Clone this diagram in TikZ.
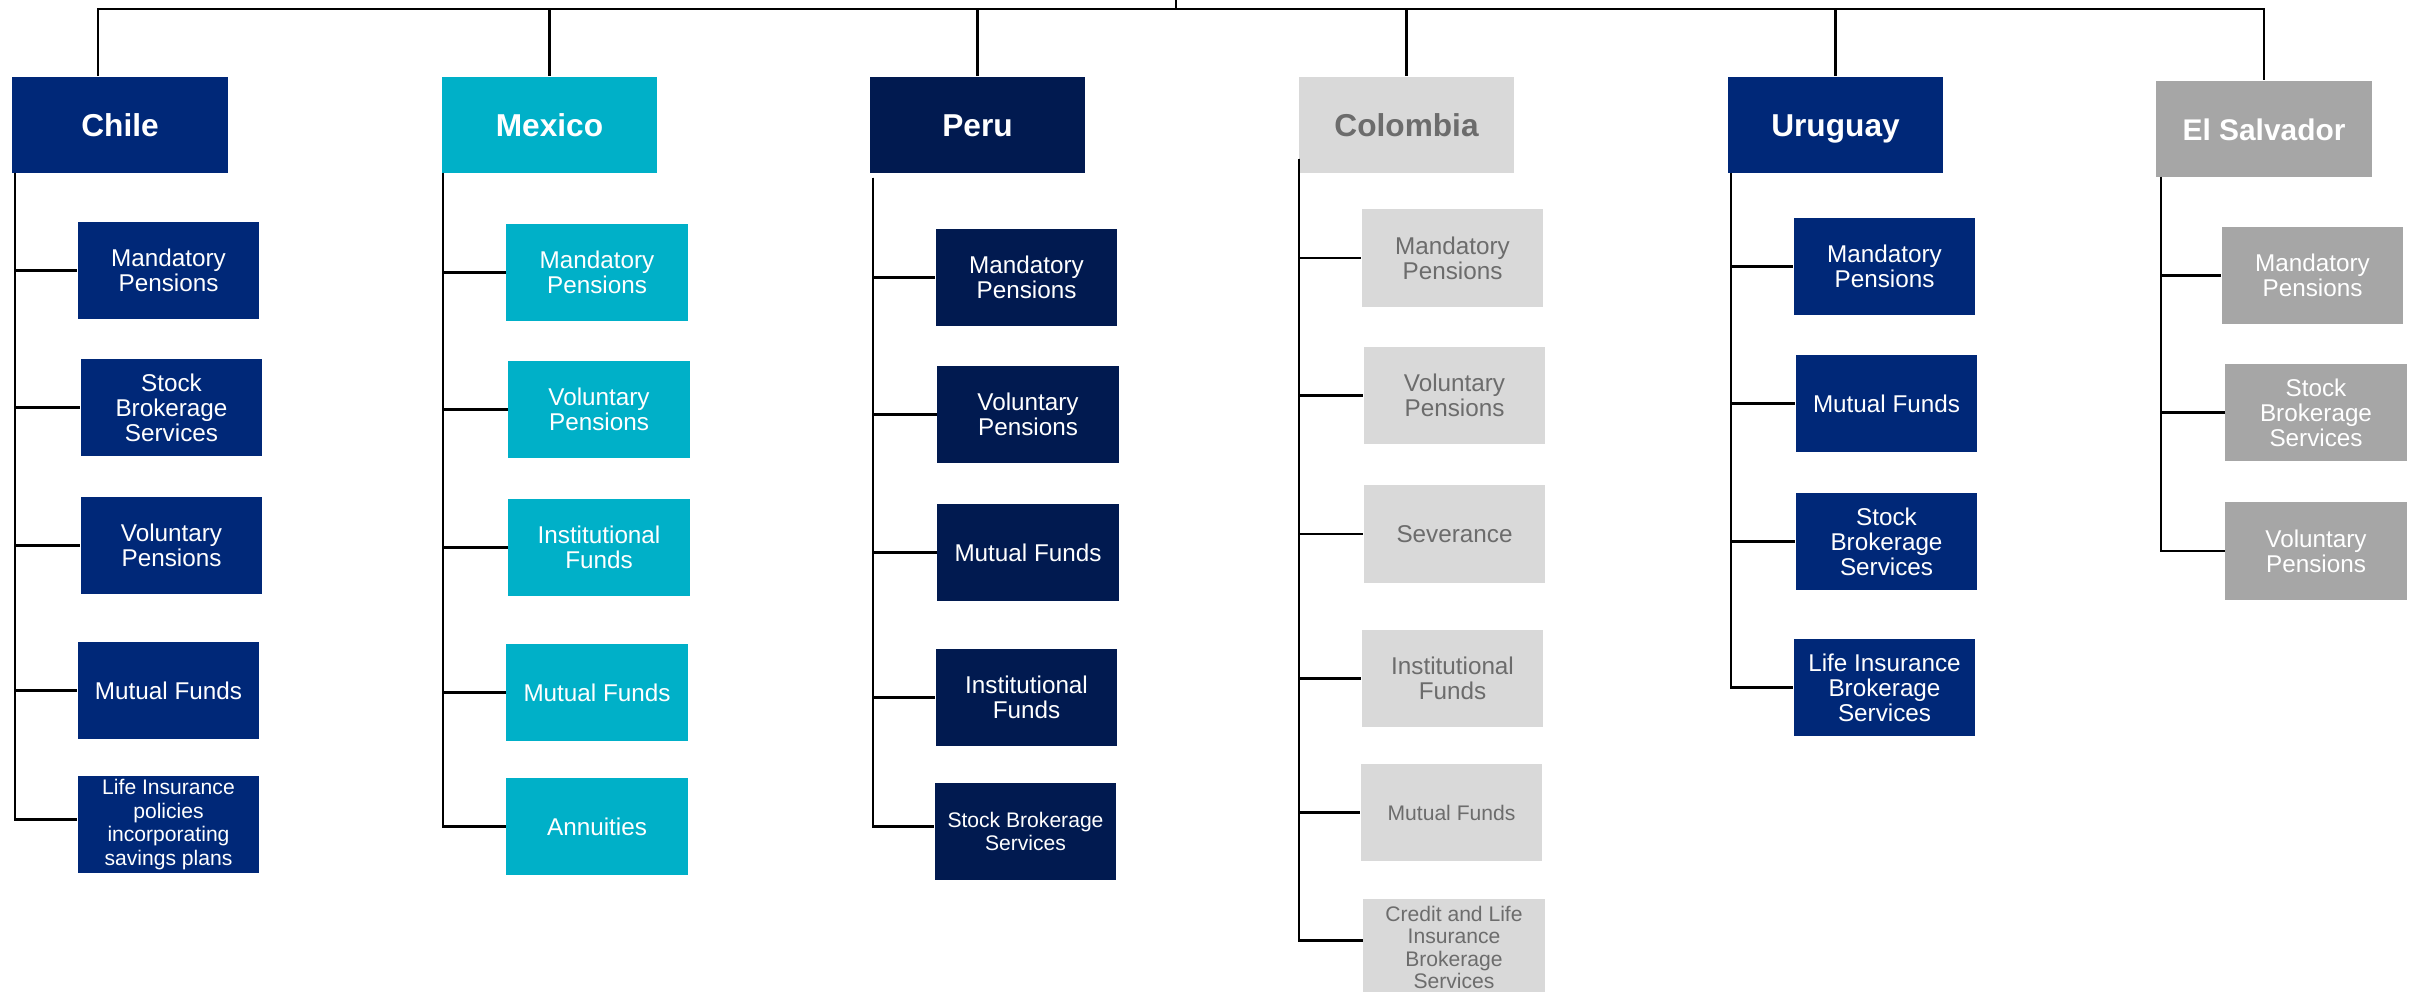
\documentclass[tikz,border=0pt]{standalone}
\usepackage{fontspec}
\setmainfont{Liberation Sans}
\definecolor{chileblue}{RGB}{0,40,120}
\definecolor{mexicocyan}{RGB}{0,176,200}
\definecolor{perunavy}{RGB}{1,26,80}
\definecolor{lightgrey}{RGB}{217,217,217}
\definecolor{textgrey}{RGB}{108,108,108}
\definecolor{midgrey}{RGB}{166,166,166}

\begin{document}
\begin{tikzpicture}[x=0.01cm,y=-0.01cm,
  country/.style={minimum width=2.15cm, minimum height=0.96cm, inner sep=0pt, text height=0.72em, text depth=0.04em, text=white, font=\fontsize{9}{10}\selectfont\bfseries},
  product/.style={minimum width=1.81cm, minimum height=0.97cm, inner sep=0pt, align=center, text=white, font=\fontsize{6.9}{7.1}\selectfont},
  smalltext/.style={font=\fontsize{6}{6.6}\selectfont},
  link/.style={line width=0.6pt},
  mainbar/.style={line width=0.8pt}]
\useasboundingbox (0,0) rectangle (2415,992);
% countries
\node (chile) at (120,125) [country, fill=chileblue] {Chile};
\node (mexico) at (549.5,125) [country, fill=mexicocyan] {Mexico};
\node (peru) at (977.5,125) [country, fill=perunavy] {Peru};
\node (colombia) at (1406.5,125) [country, fill=lightgrey, text=textgrey] {Colombia};
\node (uruguay) at (1835.5,125) [country, fill=chileblue] {Uruguay};
\node (elsalvador) at (2264,129) [country, fill=midgrey, font=\fontsize{8.5}{10}\selectfont\bfseries] {El Salvador};
% chile products
\node (chile1) at (168.5,270.5) [product, fill=chileblue] {Mandatory\\Pensions};
\node (chile2) at (171.5,407.5) [product, fill=chileblue] {Stock\\Brokerage\\Services};
\node (chile3) at (171.5,545.5) [product, fill=chileblue] {Voluntary\\Pensions};
\node (chile4) at (168.5,690.5) [product, fill=chileblue] {Mutual Funds};
\node (chile5) at (168.5,824.5) [product, fill=chileblue, font=\fontsize{6}{6.75}\selectfont] {Life Insurance\\policies\\incorporating\\savings plans};
% mexico products
\node (mexico1) at (597,272.5) [product, fill=mexicocyan] {Mandatory\\Pensions};
\node (mexico2) at (599,409.5) [product, fill=mexicocyan] {Voluntary\\Pensions};
\node (mexico3) at (599,547.5) [product, fill=mexicocyan] {Institutional\\Funds};
\node (mexico4) at (597,692.5) [product, fill=mexicocyan] {Mutual Funds};
\node (mexico5) at (597,826.5) [product, fill=mexicocyan] {Annuities};
% peru products
\node (peru1) at (1026.5,277.5) [product, fill=perunavy] {Mandatory\\Pensions};
\node (peru2) at (1028,414.5) [product, fill=perunavy] {Voluntary\\Pensions};
\node (peru3) at (1028,552.5) [product, fill=perunavy] {Mutual Funds};
\node (peru4) at (1026.5,697.5) [product, fill=perunavy] {Institutional\\Funds};
\node (peru5) at (1025.5,831.5) [product, fill=perunavy, smalltext] {Stock Brokerage\\Services};
% colombia products
\node (colombia1) at (1452.5,258) [product, fill=lightgrey, text=textgrey] {Mandatory\\Pensions};
\node (colombia2) at (1454.5,395.5) [product, fill=lightgrey, text=textgrey] {Voluntary\\Pensions};
\node (colombia3) at (1454.5,534) [product, fill=lightgrey, text=textgrey] {Severance};
\node (colombia4) at (1452.5,678.5) [product, fill=lightgrey, text=textgrey] {Institutional\\Funds};
\node (colombia5) at (1451.5,812.5) [product, fill=lightgrey, text=textgrey, smalltext] {Mutual Funds};
\node (colombia6) at (1454,947.5) [product, fill=lightgrey, text=textgrey, font=\fontsize{6}{6.35}\selectfont] {Credit and Life\\Insurance\\Brokerage\\Services};
% uruguay products
\node (uruguay1) at (1884.5,266.5) [product, fill=chileblue] {Mandatory\\Pensions};
\node (uruguay2) at (1886.5,403.5) [product, fill=chileblue] {Mutual Funds};
\node (uruguay3) at (1886.5,541.5) [product, fill=chileblue] {Stock\\Brokerage\\Services};
\node (uruguay4) at (1884.5,687.5) [product, fill=chileblue] {Life Insurance\\Brokerage\\Services};
% el salvador products
\node (elsalvador1) at (2312.5,275.5) [product, fill=midgrey] {Mandatory\\Pensions};
\node (elsalvador2) at (2316,412.5) [product, fill=midgrey] {Stock\\Brokerage\\Services};
\node (elsalvador3) at (2316,551) [product, fill=midgrey] {Voluntary\\Pensions};
% top bar
\coordinate (up) at (1176,0);
\coordinate (bar) at (1176,9);
\draw[mainbar] (up) -- (bar);
\draw[mainbar] (bar) -| ([xshift=-0.22cm]chile.north);
\draw[mainbar] (bar) -| (elsalvador.north);
\draw[link] (bar) -| (mexico.north);
\draw[link] (bar) -| (peru.north);
\draw[link] (bar) -| (colombia.north);
\draw[link] (bar) -| (uruguay.north);
% spines
\coordinate (chilespine) at (15,173);
\coordinate (mexicospine) at (443,173);
\coordinate (peruspine) at (873,178);
\coordinate (colombiaspine) at (1299,159);
\coordinate (uruguayspine) at (1731,173);
\coordinate (elsalvadorspine) at (2161,177);
% branches
\draw[link] (chilespine) |- (chile1.west);
\draw[link] (chilespine) |- (chile2.west);
\draw[link] (chilespine) |- (chile3.west);
\draw[link] (chilespine) |- (chile4.west);
\draw[link] (chilespine) |- ([yshift=0.05cm]chile5.west);
\draw[link] (mexicospine) |- (mexico1.west);
\draw[link] (mexicospine) |- (mexico2.west);
\draw[link] (mexicospine) |- (mexico3.west);
\draw[link] (mexicospine) |- (mexico4.west);
\draw[link] (mexicospine) |- (mexico5.west);
\draw[link] (peruspine) |- (peru1.west);
\draw[link] (peruspine) |- (peru2.west);
\draw[link] (peruspine) |- (peru3.west);
\draw[link] (peruspine) |- (peru4.west);
\draw[link] (peruspine) |- ([yshift=0.05cm]peru5.west);
\draw[link] (colombiaspine) |- (colombia1.west);
\draw[link] (colombiaspine) |- (colombia2.west);
\draw[link] (colombiaspine) |- (colombia3.west);
\draw[link] (colombiaspine) |- (colombia4.west);
\draw[link] (colombiaspine) |- (colombia5.west);
\draw[link] (colombiaspine) |- ([yshift=0.07cm]colombia6.west);
\draw[link] (uruguayspine) |- (uruguay1.west);
\draw[link] (uruguayspine) |- (uruguay2.west);
\draw[link] (uruguayspine) |- (uruguay3.west);
\draw[link] (uruguayspine) |- (uruguay4.west);
\draw[link] (elsalvadorspine) |- (elsalvador1.west);
\draw[link] (elsalvadorspine) |- (elsalvador2.west);
\draw[link] (elsalvadorspine) |- (elsalvador3.west);
\end{tikzpicture}
\end{document}
